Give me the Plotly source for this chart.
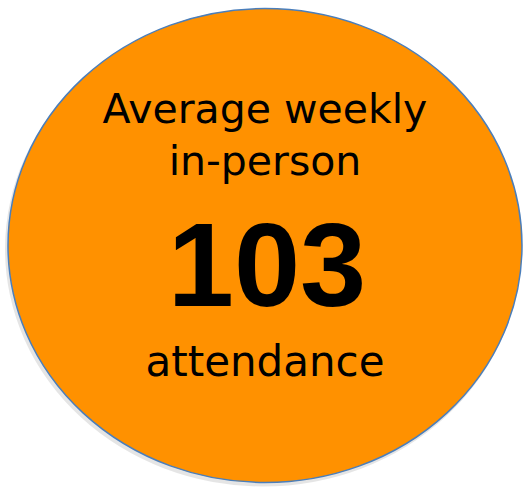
import plotly.graph_objects as go

# Data
label_top = ["Average weekly", "in-person"]
value = [103]
label_bottom = ["attendance"]

W, H = 523, 487
cx, cy, rx, ry = 265, 245.5, 257, 237

fig = go.Figure()
# shadow
fig.add_shape(type="circle", xref="x", yref="y",
              x0=cx - rx - 3, x1=cx + rx - 1, y0=cy - ry + 3, y1=cy + ry + 4,
              fillcolor="rgba(0,0,0,0.10)", line=dict(width=0), layer="below")
fig.add_shape(type="circle", xref="x", yref="y",
              x0=cx - rx, x1=cx + rx, y0=cy - ry, y1=cy + ry,
              fillcolor="#FF9100", line=dict(color="#4A7EBB", width=1.5), layer="below")

font_main = "DejaVu Sans, sans-serif"
fig.add_trace(go.Scatter(
    x=[cx, cx], y=[113, 165], mode="text", text=label_top,
    textfont=dict(family=font_main, size=41, color="#000"),
    textposition="middle center", hoverinfo="skip", showlegend=False))
fig.add_trace(go.Scatter(
    x=[267], y=[276], mode="text", text=[str(v) for v in value],
    textfont=dict(family="Liberation Sans, Arial, sans-serif", size=119, color="#000", weight="bold"),
    textposition="middle center", hoverinfo="skip", showlegend=False))
fig.add_trace(go.Scatter(
    x=[cx], y=[365], mode="text", text=label_bottom,
    textfont=dict(family=font_main, size=42, color="#000"),
    textposition="middle center", hoverinfo="skip", showlegend=False))

fig.update_xaxes(range=[0, W], visible=False, fixedrange=True)
fig.update_yaxes(range=[H, 0], visible=False, fixedrange=True)
fig.update_layout(width=W, height=H, margin=dict(l=0, r=0, t=0, b=0),
                  paper_bgcolor="white", plot_bgcolor="white")
fig.write_html("out.html", config={"displayModeBar": False},
               post_script="document.body.style.margin='0';document.body.style.overflow='hidden';")
